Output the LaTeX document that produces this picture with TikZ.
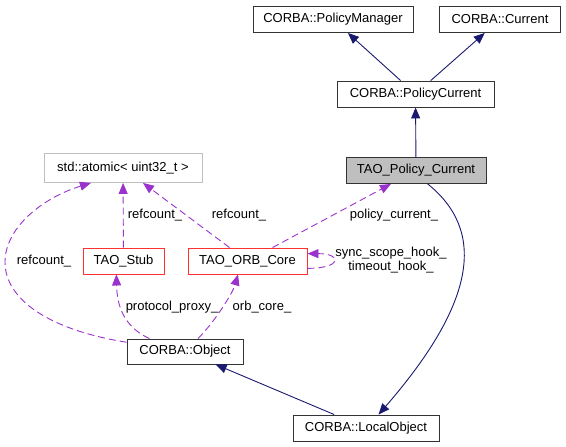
\documentclass[tikz,border=0pt]{standalone}
\usepackage{fontspec}
\setmainfont{Liberation Sans}
\usetikzlibrary{arrows.meta}
\definecolor{edgeblue}{HTML}{191970}
\definecolor{edgepurple}{HTML}{9A32CD}
\definecolor{boxgray}{HTML}{BFBFBF}
\definecolor{boxred}{HTML}{FF3030}

\begin{document}
\begin{tikzpicture}[x=1pt,y=-1pt]
\tikzstyle{cls}=[rectangle, draw=black!80, line width=0.9pt, minimum height=26pt, inner sep=0pt, font=\fontsize{13}{15}\selectfont]
\tikzstyle{inh}=[edgeblue, line width=0.9pt, -{Triangle[length=11pt,width=9pt]}]
\tikzstyle{use}=[edgepurple, line width=0.9pt, dash pattern=on 7pt off 4pt, -{Triangle[length=11pt,width=9pt]}]
\tikzstyle{lbl}=[font=\fontsize{13}{14}\selectfont, inner sep=0pt, align=center]
\useasboundingbox (0,0) rectangle (566,447);
  \node[cls, minimum width=160pt] (pm) at (333,19.5) {CORBA::PolicyManager};
  \node[cls, minimum width=121pt] (cur) at (500,19.5) {CORBA::Current};
  \node[cls, minimum width=157pt] (pc) at (415.5,94) {CORBA::PolicyCurrent};
  \node[cls, minimum width=140pt, fill=boxgray] (tpc) at (416,170.5) {TAO\_Policy\_Current};
  \node[cls, minimum width=158pt, minimum height=29pt, draw=boxgray] (atom) at (123,168) {std::atomic< uint32\_t >};
  \node[cls, minimum width=81pt, draw=boxred] (stub) at (123.5,261) {TAO\_Stub};
  \node[cls, minimum width=119pt, draw=boxred] (orb) at (247.5,261) {TAO\_ORB\_Core};
  \node[cls, minimum width=116pt, minimum height=25pt] (obj) at (185,351.5) {CORBA::Object};
  \node[cls, minimum width=146pt] (lobj) at (366,428) {CORBA::LocalObject};
\path (pc) edge[inh] (pm)
      (pc) edge[inh] (cur)
      (tpc) edge[inh] (pc)
      (lobj) edge[inh] (obj)
      ;
\draw[inh] (tpc.-49) .. controls (485,230) and (478,300) .. (lobj.47);
\path (stub) edge[use] (atom)
      (orb) edge[use] (atom)
      (orb) edge[use] (tpc)
      ;
\draw[use] (obj.171) .. controls (50,330) and (5,300) .. (5,262)
                     .. controls (5,228) and (42,198) .. (atom.205);
\draw[use] (obj.160) .. controls (120,325) and (117,300) .. (stub.242);
\draw[use] (obj.45) .. controls (212,325) and (232,295) .. (orb.235);
\draw[use] (orb.-7) .. controls +(35,0) and +(35,0) .. (orb.7);
  \node[lbl] (rc1) at (44,261) {refcount\_};
  \node[lbl] (rc2) at (155,215) {refcount\_};
  \node[lbl] (rc3) at (239,215) {refcount\_};
  \node[lbl] (polc) at (394,215) {policy\_current\_};
  \node[lbl] (hooks) at (391,260) {sync\_scope\_hook\_\\timeout\_hook\_};
  \node[lbl] (proxy) at (172,307) {protocol\_proxy\_};
  \node[lbl] (orbc) at (262,307) {orb\_core\_};
\end{tikzpicture}
\end{document}
